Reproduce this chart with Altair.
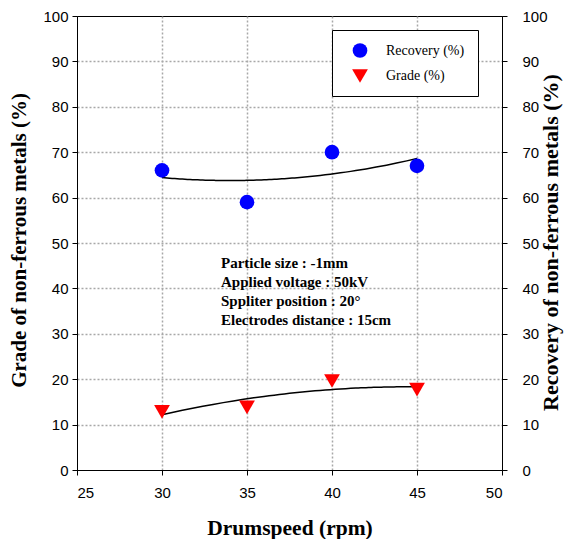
import altair as alt
import pandas as pd

# ---- data ----
drum_speed = [30, 35, 40, 45]
recovery = [66, 59, 70, 67]
grade = [12.8, 13.8, 19.6, 17.7]
x_ticks = [25, 30, 35, 40, 45, 50]
y_ticks = [0, 10, 20, 30, 40, 50, 60, 70, 80, 90, 100]
series_names = ["Recovery (%)", "Grade (%)"]
series_colors = ["#0000ff", "#ff0000"]
series_shapes = ["circle", "triangle-down"]
series_sizes = [215, 250]
annotation = ["Particle size : -1mm",
              "Applied voltage : 50kV",
              "Sppliter position : 20\u00b0",
              "Electrodes distance : 15cm"]

df = pd.DataFrame({"speed": drum_speed, "recovery": recovery, "grade": grade})

GRID = "#a8a8a8"
SERIF = "Liberation Serif"
SANS = "Liberation Sans"

x_enc = alt.X(
    "speed:Q",
    scale=alt.Scale(domain=[25, 50], nice=False, zero=False),
    axis=alt.Axis(
        values=x_ticks, title="Drumspeed (rpm)", tickSize=5, labelPadding=10,
        labelFont=SANS, labelFontSize=15, labelColor="black",
        titleFont=SERIF, titleFontSize=21.5, titleFontWeight="bold", titleColor="black",
        titleBaseline="alphabetic", titleY=64,
        domainColor="black", tickColor="black",
        grid=True, gridColor=GRID, gridDash=[2, 2], gridWidth=1.5,
        gridOpacity=alt.condition("datum.value == 25 || datum.value == 50", alt.value(0), alt.value(1)),
    ),
)

ysc = alt.Scale(domain=[0, 100], nice=False, zero=True)

left_axis = alt.Axis(
    values=y_ticks, orient="left", title="Grade of non-ferrous metals (%)",
    tickSize=5, labelPadding=4, labelFont=SANS, labelFontSize=15, labelColor="black",
    titleFont=SERIF, titleFontSize=21, titleFontWeight="bold", titleColor="black",
    titleAngle=270, titleAlign="center", titleBaseline="alphabetic", titleX=-52, titleY=224,
    domainColor="black", tickColor="black",
    grid=True, gridColor=GRID, gridDash=[2, 2], gridWidth=1.5,
    gridOpacity=alt.condition("datum.value == 0 || datum.value == 100", alt.value(0), alt.value(1)),
)

right_axis = alt.Axis(
    values=y_ticks, orient="right", title="Recovery of non-ferrous metals (%)",
    tickSize=5, labelPadding=15, labelFont=SANS, labelFontSize=15, labelColor="black",
    titleFont=SERIF, titleFontSize=22, titleFontWeight="bold", titleColor="black",
    titleAngle=270, titleAlign="center", titleBaseline="alphabetic", titleX=55, titleY=226,
    domainColor="black", tickColor="black", grid=False,
)

legend = alt.Legend(
    title=None, orient="none", legendX=255, legendY=14,
    strokeColor="black", fillColor="white", padding=13,
    symbolSize=220, symbolOffset=7, labelOffset=18, rowPadding=10,
    labelFont=SERIF, labelFontSize=14, labelColor="black", symbolStrokeWidth=0,
)

base = (
    alt.Chart(df)
    .transform_fold(["recovery", "grade"], as_=["key", "value"])
    .transform_calculate(series="datum.key == 'recovery' ? 'Recovery (%)' : 'Grade (%)'")
)

lines = (
    base.transform_regression("speed", "value", groupby=["series"], method="poly", order=2)
    .mark_line(color="black", strokeWidth=1.5)
    .encode(
        x=x_enc,
        y=alt.Y("value:Q", scale=ysc, axis=right_axis),
        detail="series:N",
    )
)

points = base.mark_point(filled=True, opacity=1).encode(
    x=x_enc,
    y=alt.Y("value:Q", scale=ysc, axis=left_axis),
    color=alt.Color("series:N", scale=alt.Scale(domain=series_names, range=series_colors), legend=legend),
    shape=alt.Shape("series:N", scale=alt.Scale(domain=series_names, range=series_shapes), legend=legend),
    size=alt.Size("series:N", scale=alt.Scale(domain=series_names, range=series_sizes), legend=None),
)

text = alt.Chart(pd.DataFrame({"t": ["\n".join(annotation)]})).mark_text(
    align="left", baseline="alphabetic", lineBreak="\n", lineHeight=19,
    font=SERIF, fontWeight="bold", fontSize=15, color="black",
).encode(x=alt.value(144), y=alt.value(252), text="t:N")

chart = (
    alt.layer(lines, points, text)
    .resolve_scale(y="independent")
    .properties(
        width=425, height=454,
        autosize=alt.AutoSizeParams(type="none"),
        padding={"left": 69, "top": 8, "right": 62, "bottom": 69},
        background="white",
    )
    .configure_view(stroke="black", strokeWidth=1)
)

chart.save("out.html", embed_options={"renderer": "svg", "actions": False})
